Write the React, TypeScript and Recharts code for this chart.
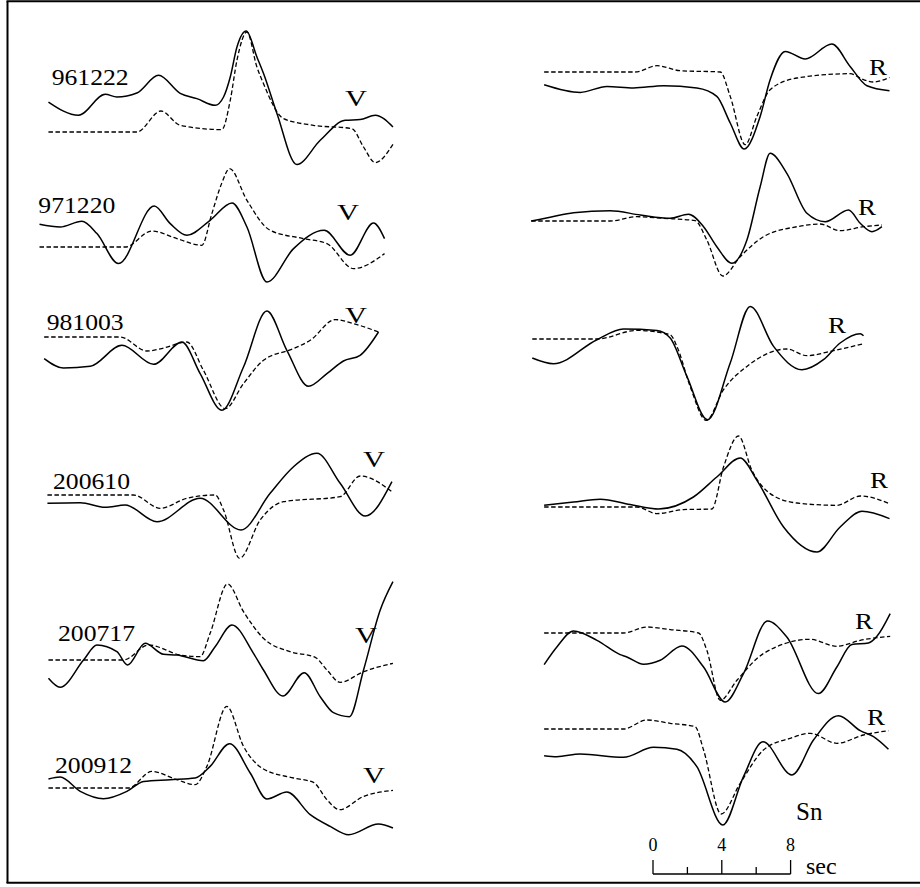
import React from 'react';
import { LineChart, Line, XAxis, YAxis } from 'recharts';

type Pt = [number, number];

// time in seconds, amplitude in arbitrary units (positive = up)
// vertical component, left column
const v961222Solid: Pt[] = [[0.48, 30], [2.23, 16.7], [3.78, 37.7], [4.46, 35], [5.62, 39], [6.88, 56.7], [8.14, 38.7], [9.11, 33.4], [10.17, 26.7], [10.66, 35], [11.05, 55], [11.44, 85], [11.98, 101], [12.6, 75], [12.98, 58.7], [13.76, 18.7], [14.92, -32.6], [16.28, -8.3], [17.73, 11.7], [18.6, 12.4], [19.48, 16.7], [20.51, 5]];
const v961222Dashed: Pt[] = [[0.48, 0], [5.62, 0], [7.02, 21], [8.14, 6.7], [10.56, 2.4], [11.05, 31.7], [11.44, 71.7], [12.02, 100], [12.6, 65], [12.98, 48.4], [14.15, 13.4], [15.89, 6.7], [18.12, 3.4], [18.8, -15], [19.48, -30.6], [20.51, -12.3]];

const v971220Solid: Pt[] = [[-0.04, 22.7], [1.16, 20], [2.42, 25.7], [3.3, 13.4], [4.55, -16.6], [6.63, 41], [7.56, 23.4], [8.53, 11.7], [9.88, 26.7], [11.15, 44], [12.02, 20], [13.18, -35], [14.73, -1.6], [16.51, 16.7], [18.02, -8.3], [19.38, 24], [20.02, 8.4]];
const v971220Dashed: Pt[] = [[-0.04, 0], [4.94, 0], [6.49, 16], [7.95, 8.4], [9.4, 1.7], [9.98, 33.4], [10.56, 64], [11.01, 78.4], [12.02, 46.7], [13.37, 16.7], [15.31, 8.4], [16.67, 3.4], [18.22, -21.6], [20.02, -6.6]];

const v981003Solid: Pt[] = [[0.23, -21.6], [1.35, -31], [2.91, -29.3], [4.75, -8.3], [6.59, -27.3], [8.24, -5], [9.3, -36.6], [10.56, -73.3], [11.82, -30], [13.18, 26], [14.34, -13.3], [15.6, -49.3], [16.67, -36.6], [17.63, -24], [18.6, -18.3], [19.67, 5]];
const v981003Dashed: Pt[] = [[0.23, 0], [4.65, 0], [6.2, -14], [7.17, -11], [8.53, -5], [9.49, -33.3], [10.76, -71.6], [11.82, -46.6], [12.98, -23.3], [14.73, -11.6], [15.7, -3.3], [17.15, 17.4], [18.22, 13.4], [19.67, 5]];

const v200610Solid: Pt[] = [[0.42, -8.3], [2.33, -7.7], [3.78, -12.3], [4.94, -10], [6.79, -26.7], [9.3, -3.3], [11.67, -35], [13.37, 1.7], [14.73, 28.3], [16.09, 41.7], [17.44, 11.7], [18.9, -21], [20.45, 13.3]];
const v200610Dashed: Pt[] = [[0.42, 0], [5.42, 0], [6.98, -13.3], [8.53, -3.3], [10.17, 0], [10.66, -15], [11.59, -63.3], [12.79, -25], [14.15, -6.7], [17.44, -1.7], [18.6, 19], [20.45, 3.3]];

const v200717Solid: Pt[] = [[0.48, -18.3], [1.16, -27.3], [2.52, 0], [3.3, 15], [4.46, 8.3], [5.08, -5], [6.1, 16.7], [7.17, 5.7], [7.95, 5], [9.49, -0.7], [10.17, 13.3], [11.15, 35], [12.4, 6.7], [12.98, -10], [14.11, -36], [15.35, -12.7], [16.28, -36.7], [17.05, -52.7], [17.98, -56.7], [18.8, -10], [19.77, 50], [20.51, 78.3]];
const v200717Dashed: Pt[] = [[0.48, 0], [4.84, 0], [6.3, 15], [8.14, 5], [9.3, 3.3], [9.88, 26.7], [10.89, 76], [11.82, 48.3], [12.98, 21.7], [14.53, 8.3], [15.99, 2.7], [16.67, -10], [17.44, -22.3], [18.8, -11.7], [20.51, -3.3]];

const v200912Solid: Pt[] = [[0.48, 9], [1.16, 11], [2.33, -3.4], [3.68, -10.7], [5.04, -3.4], [6.01, 6.6], [7.56, 8.3], [9.01, 10], [9.88, 21.6], [11.01, 44.3], [12.21, 15], [13.18, -11], [14.34, -4], [15.7, -26.7], [16.86, -38.4], [17.93, -46.7], [19.67, -36], [20.51, -40]];
const v200912Dashed: Pt[] = [[0.48, 0], [5.13, 0], [6.49, 16.6], [7.95, 8.3], [9.01, 3.3], [9.69, 21.6], [10.85, 81.6], [11.82, 41.6], [12.98, 19], [14.73, 10], [15.89, 5.6], [16.67, -11.7], [17.4, -21.7], [18.8, -8.4], [20.51, -2.4]];

// radial component, right column
const r961222Solid: Pt[] = [[0.81, -12.7], [2.91, -20.4], [4.46, -14.4], [6.01, -16], [7.75, -13.7], [9.69, -16], [10.85, -24.4], [11.63, -51], [12.44, -77], [13.37, -44.4], [13.95, -7.7], [14.83, 20.6], [15.99, 13], [17.54, 28], [18.6, 5.6], [19.58, -13.7], [20.89, -18.7]];
const r961222Dashed: Pt[] = [[0.81, 0], [6.1, 0], [7.37, 6.3], [8.72, 1.3], [11.05, 0], [11.63, -24.4], [12.5, -72.7], [13.18, -44.4], [13.95, -17.7], [15.51, -6], [18.6, -1.7], [19.38, -7.7], [19.96, -10], [20.89, -5.4]];

const r971220Solid: Pt[] = [[0.06, 0], [1.16, 3.7], [2.52, 8.3], [4.65, 10.3], [6.4, 6], [8.14, 2.7], [9.2, 6.7], [10.08, -5.7], [10.85, -25.7], [11.73, -42.3], [12.6, -19], [13.37, 34.3], [13.95, 67.7], [14.92, 47.7], [16.09, 7.7], [17.15, -0.7], [18.51, 11], [19.19, -2.3], [19.87, -10.7], [20.45, -5.7]];
const r971220Dashed: Pt[] = [[0.06, 0], [4.65, 0], [6.2, 4.3], [7.75, 2.7], [9.59, 0.3], [10.27, -19], [11.2, -55], [12.21, -35.7], [13.56, -15.7], [15.51, -5.7], [16.86, -3], [18.02, -9.7], [19.38, -5.7], [20.45, -4]];

const r981003Solid: Pt[] = [[0.12, -19], [1.35, -24.7], [3.88, -0.7], [5.42, 10], [7.37, 8.6], [8.14, 1], [9.11, -37.4], [10.31, -80.7], [11.63, -24], [12.79, 32.6], [14.15, -7.4], [15.8, -30.7], [17.05, -20.7], [18.02, -4], [19.19, 5.3], [19.38, 3.3]];
const r981003Dashed: Pt[] = [[0.12, 0], [3.88, 0], [6.2, 8.6], [8.14, 4.3], [8.53, -7.4], [9.3, -47.4], [10.23, -81.4], [11.24, -50.7], [12.6, -27.4], [14.92, -10], [16.09, -16.7], [17.44, -12.4], [19.38, -4.7]];

const r200610Solid: Pt[] = [[0.81, 1.7], [2.52, 5], [4.07, 7.7], [5.81, 2.4], [7.46, -2], [9.49, 10], [10.85, 30], [12.21, 49], [13.18, 26.7], [14.73, -20], [16.67, -45], [18.02, -20], [19.29, -4.3], [20.89, -11.6]];
const r200610Dashed: Pt[] = [[0.81, 0], [6.2, 0], [7.37, -6.6], [8.91, -2.6], [10.56, -2], [11.24, 40], [12.11, 71], [12.89, 36.7], [13.95, 13.4], [15.51, 4], [17.83, 1.7], [19.19, 11], [20.89, 3.4]];

const r200717Solid: Pt[] = [[0.81, -31.6], [1.55, -14], [2.52, 2], [3.88, -7.3], [5.23, -21.6], [5.62, -24], [6.59, -31.3], [7.56, -27.3], [8.82, -13], [10.08, -34], [11.34, -69], [12.4, -40.6], [13.8, 12], [14.92, -4], [16.76, -60.6], [17.83, -34], [18.7, -11.6], [19.67, -10], [20.16, -3.3], [20.93, 19.4]];
const r200717Dashed: Pt[] = [[0.81, 0], [5.42, 0], [6.79, 6], [8.14, 3.4], [9.79, 0], [10.27, -17.3], [11.05, -67.3], [12.02, -47.3], [13.56, -20.6], [16.28, -6.3], [17.83, -13.3], [19.19, -7.3], [20.93, -3.3]];

const r200912Solid: Pt[] = [[0.81, -26.7], [1.55, -27.7], [2.91, -25], [5.42, -28.3], [7.17, -18.3], [8.53, -20.3], [9.69, -37.7], [11.2, -96], [12.4, -47.7], [13.53, -12.7], [15.22, -46], [16.47, -11], [17.92, 13.3], [19.19, -1.7], [19.96, -7.7], [20.83, -20.3]];
const r200912Dashed: Pt[] = [[0.81, 0], [5.42, 0], [6.79, 9], [8.14, 5.7], [9.59, 2.3], [10.08, -21], [11.1, -85], [12.21, -54.3], [13.56, -21], [15.12, -9.3], [16.28, -4.3], [17.83, -14.3], [19.38, -6], [20.83, -1.7]];

const events = ['961222', '971220', '981003', '200610', '200717', '200912'];
const verticalTraces: [Pt[], Pt[]][] = [
  [v961222Solid, v961222Dashed],
  [v971220Solid, v971220Dashed],
  [v981003Solid, v981003Dashed],
  [v200610Solid, v200610Dashed],
  [v200717Solid, v200717Dashed],
  [v200912Solid, v200912Dashed],
];
const radialTraces: [Pt[], Pt[]][] = [
  [r961222Solid, r961222Dashed],
  [r971220Solid, r971220Dashed],
  [r981003Solid, r981003Dashed],
  [r200610Solid, r200610Dashed],
  [r200717Solid, r200717Dashed],
  [r200912Solid, r200912Dashed],
];
const scaleTicks = [0, 2, 4, 6, 8];
const scaleLabels = [0, 4, 8];

// layout
const PX_PER_SEC = 17.2;
const HALF = 120;
const leftX0 = 40;
const rightX0 = 530;
const leftBase = [131.7, 246.7, 336.7, 495, 660, 788.3];
const rightBase = [72.3, 221, 339.3, 506.7, 632.7, 729];
const idPos = [[51.7, 85], [38.3, 213.3], [46.7, 330], [53, 489.3], [58, 641], [55, 773.3]];
const vPos = [[345, 106], [337, 220], [345, 322.7], [363, 466.7], [355, 642.7], [363, 783.3]];
const rPos = [[869, 75], [858, 215], [828, 333.3], [870, 488.3], [855, 629.3], [867, 725]];
const font = '"Liberation Serif", "Times New Roman", serif';

function buildRows(solid: Pt[], dashed: Pt[]) {
  const rows: { t: number; s?: number; d?: number }[] = [
    ...solid.map(([t, a]) => ({ t, s: a })),
    ...dashed.map(([t, a]) => ({ t, d: a })),
  ];
  rows.sort((p, q) => p.t - q.t);
  return rows;
}

function Trace({ solid, dashed, x0, base }: { solid: Pt[]; dashed: Pt[]; x0: number; base: number }) {
  const rows = buildRows(solid, dashed);
  return (
    <div style={{ position: 'absolute', left: x0 - PX_PER_SEC, top: base - HALF }}>
      <LineChart width={22 * PX_PER_SEC} height={2 * HALF} data={rows} margin={{ top: 0, right: 0, bottom: 0, left: 0 }}>
        <XAxis dataKey="t" type="number" domain={[-1, 21]} hide />
        <YAxis type="number" domain={[-HALF, HALF]} hide />
        <Line type="monotone" dataKey="d" connectNulls stroke="#000" strokeWidth={1.3} strokeDasharray="4.5 2.5" dot={false} activeDot={false} isAnimationActive={false} />
        <Line type="monotone" dataKey="s" connectNulls stroke="#000" strokeWidth={1.5} dot={false} activeDot={false} isAnimationActive={false} />
      </LineChart>
    </div>
  );
}

function ScaleTick(props: any) {
  const { x, y, payload } = props;
  const major = scaleLabels.includes(payload.value);
  return (
    <g>
      <line x1={x} x2={x} y1={y} y2={y - (major ? 14 : 7)} stroke="#000" strokeWidth={1.3} />
      {major && (
        <text x={x} y={y - 23} textAnchor="middle" fontFamily={font} fontSize={18} fill="#000">
          {payload.value}
        </text>
      )}
    </g>
  );
}

function ScaleBar() {
  const pad = 6;
  return (
    <div style={{ position: 'absolute', left: 653.3 - pad, top: 874 - 40 }}>
      <LineChart width={8 * PX_PER_SEC + 2 * pad} height={44} data={[{ t: 0 }, { t: 8 }]} margin={{ top: 0, right: pad, bottom: 0, left: pad }}>
        <XAxis
          dataKey="t"
          type="number"
          orientation="top"
          domain={[0, 8]}
          ticks={scaleTicks}
          height={40}
          tickSize={0}
          tickMargin={0}
          tickLine={false}
          axisLine={{ stroke: '#000', strokeWidth: 1.3 }}
          tick={<ScaleTick />}
          interval={0}
        />
        <YAxis hide domain={[0, 1]} />
      </LineChart>
    </div>
  );
}

export default function App() {
  const txt = { fontFamily: font, fill: '#000' };
  return (
    <div style={{ position: 'absolute', left: 0, top: 0, width: 920, height: 887, background: '#fff', overflow: 'hidden' }}>
      {verticalTraces.map(([s, d], i) => (
        <Trace key={'v' + i} solid={s} dashed={d} x0={leftX0} base={leftBase[i]} />
      ))}
      {radialTraces.map(([s, d], i) => (
        <Trace key={'r' + i} solid={s} dashed={d} x0={rightX0} base={rightBase[i]} />
      ))}
      <ScaleBar />
      <svg width={920} height={887} style={{ position: 'absolute', left: 0, top: 0, pointerEvents: 'none' }}>
        <line x1={7.5} y1={1.3} x2={7.5} y2={883} stroke="#000" strokeWidth={2} />
        <line x1={6.5} y1={1.3} x2={920} y2={1.3} stroke="#000" strokeWidth={2} />
        <line x1={6.5} y1={882.8} x2={920} y2={882.8} stroke="#000" strokeWidth={2} />
        {events.map((e, i) => (
          <text key={e} x={idPos[i][0]} y={idPos[i][1]} fontSize={24} textLength={77} lengthAdjust="spacingAndGlyphs" {...txt}>
            {e}
          </text>
        ))}
        {vPos.map(([x, y], i) => (
          <text key={'V' + i} x={x} y={y} fontSize={24} textLength={22} lengthAdjust="spacingAndGlyphs" {...txt}>
            V
          </text>
        ))}
        {rPos.map(([x, y], i) => (
          <text key={'R' + i} x={x} y={y} fontSize={24} textLength={18} lengthAdjust="spacingAndGlyphs" {...txt}>
            R
          </text>
        ))}
        <text x={796} y={820} fontSize={25} {...txt}>Sn</text>
        <text x={806} y={874} fontSize={24} {...txt}>sec</text>
      </svg>
    </div>
  );
}
